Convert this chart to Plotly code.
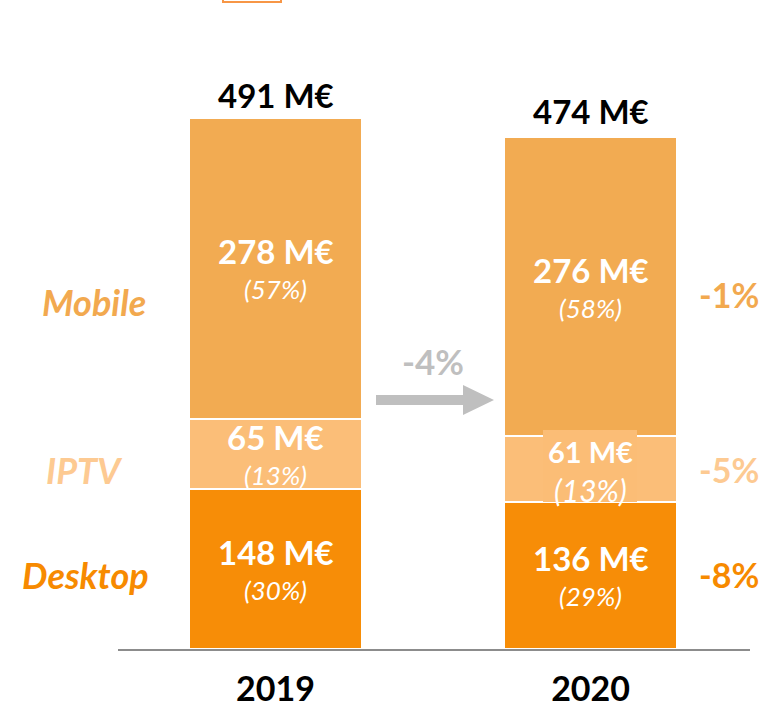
import plotly.graph_objects as go

years = ["2019", "2020"]
segments = ["Desktop", "IPTV", "Mobile"]
desktop = [148, 136]
iptv = [65, 61]
mobile = [278, 276]
totals = [491, 474]
pct_desktop = ["(30%)", "(29%)"]
pct_iptv = ["(13%)", "(13%)"]
pct_mobile = ["(57%)", "(58%)"]
growth = ["-8%", "-5%", "-1%"]  # Desktop, IPTV, Mobile
total_growth = "-4%"

C_DESK = "#F78D07"
C_IPTV = "#FBBE78"
C_MOB = "#F2AB52"
T_DESK = "#F78A00"
T_IPTV = "#FDCA92"
T_MOB = "#F2A94F"

FONT = "Lato"
W, H = 769, 706
L, R, T, B = 118, 19, 0, 57
PW, PH = W - L - R, H - T - B
YMAX = 600.0
xs = [0, 1]
BW = 0.549

fig = go.Figure()
for vals, col, name in [(desktop, C_DESK, "Desktop"), (iptv, C_IPTV, "IPTV"), (mobile, C_MOB, "Mobile")]:
    fig.add_trace(go.Bar(x=xs, y=vals, width=BW, name=name, marker=dict(color=col, line=dict(color="white", width=2)),
                         showlegend=False, hoverinfo="skip"))

fig.update_layout(barmode="stack", width=W, height=H, margin=dict(l=L, r=R, t=T, b=B, autoexpand=False),
                  plot_bgcolor="white", paper_bgcolor="white", showlegend=False)
fig.update_xaxes(range=[-0.5, 1.506], tickvals=xs, ticktext=["<b>%s</b>" % y for y in years],
                 tickfont=dict(family=FONT, size=34, color="black"), showline=True, linecolor="#8C8C8C",
                 linewidth=2, showgrid=False, zeroline=False, ticks="", ticklabelstandoff=9, automargin=False)
fig.update_yaxes(range=[0, YMAX], visible=False, automargin=False)

def py2paper(py):
    return (H - B - py) / PH

def px2paper(px):
    return (px - L) / PW

# IPTV 2020 label background box
fig.add_shape(type="rect", xref="paper", yref="paper", x0=px2paper(543), x1=px2paper(637),
              y0=py2paper(502), y1=py2paper(430), fillcolor="#FBBD76", line=dict(width=0), layer="above")

ann = []
for i, x in enumerate(xs):
    bottoms = [0, desktop[i], desktop[i] + iptv[i]]
    for val, pct, base in [(desktop[i], pct_desktop[i], bottoms[0]), (iptv[i], pct_iptv[i], bottoms[1]),
                           (mobile[i], pct_mobile[i], bottoms[2])]:
        mid = base + val / 2
        small = (i == 1 and val == iptv[i])
        ann.append(dict(x=x, y=mid, text="<b>%d M€</b>" % val, showarrow=False, yshift=17, xanchor="center",
                        font=dict(family=FONT, size=29 if small else 33, color="white")))
        ann.append(dict(x=x, y=mid, text="<i>%s</i>" % pct, showarrow=False, yshift=-21, xanchor="center",
                        font=dict(family=FONT, size=30 if small else 26, color="white")))
    ann.append(dict(x=x, y=totals[i], text="<b>%d M€</b>" % totals[i], showarrow=False, yanchor="middle",
                    xanchor="center", yshift=23 if i == 0 else 25, font=dict(family=FONT, size=33, color="black")))

# left segment labels
for name, col, py, px in [("Mobile", T_MOB, 302, 94), ("IPTV", T_IPTV, 470, 84), ("Desktop", T_DESK, 575, 85)]:
    ann.append(dict(xref="paper", yref="paper", x=px2paper(px), y=py2paper(py), text="<b><i>%s</i></b>" % name,
                    xanchor="center", yanchor="middle", showarrow=False, font=dict(family=FONT, size=36, color=col)))
# right growth labels
for g, col, py in [(growth[2], T_MOB, 294), (growth[1], T_IPTV, 469), (growth[0], T_DESK, 574)]:
    ann.append(dict(xref="paper", yref="paper", x=px2paper(729), y=py2paper(py), text="<b>%s</b>" % g,
                    xanchor="center", yanchor="middle", showarrow=False, font=dict(family=FONT, size=34, color=col)))
# total growth
ann.append(dict(xref="paper", yref="paper", x=px2paper(433), y=py2paper(361), text="<b>%s</b>" % total_growth,
                xanchor="center", yanchor="middle", showarrow=False, font=dict(family=FONT, size=35, color="#BFBFBF")))
fig.update_layout(annotations=ann)

# arrow
pts = [(376, 395), (463, 395), (463, 385), (494, 400), (463, 415), (463, 405), (376, 405)]
path = "M " + " L ".join("%f,%f" % (px2paper(a), py2paper(b)) for a, b in pts) + " Z"
fig.add_shape(type="path", xref="paper", yref="paper", path=path, fillcolor="#BFBFBF", line=dict(width=0))

# partial legend box at top
fig.add_shape(type="rect", xref="paper", yref="paper", x0=px2paper(223), x1=px2paper(281),
              y0=py2paper(2), y1=py2paper(-12), fillcolor="white", line=dict(color="#F79646", width=2))

fig.write_html("out.html", config={"displayModeBar": False},
               post_script="document.body.style.margin='0';document.body.style.padding='0';")
